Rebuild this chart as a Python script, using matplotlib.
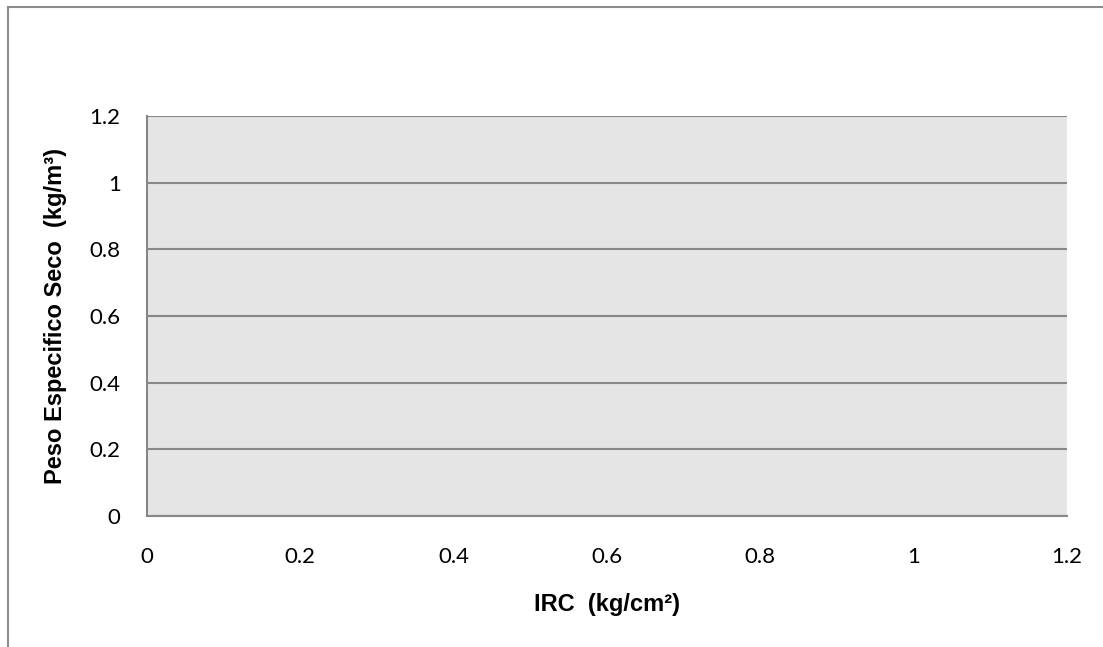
import matplotlib.pyplot as plt
from matplotlib.patches import Rectangle

# empty scatter chart: only axis ranges / ticks
x_ticks = [0, 0.2, 0.4, 0.6, 0.8, 1, 1.2]
y_ticks = [0, 0.2, 0.4, 0.6, 0.8, 1, 1.2]
x_labels = ['0', '0.2', '0.4', '0.6', '0.8', '1', '1.2']
y_labels = ['0', '0.2', '0.4', '0.6', '0.8', '1', '1.2']
x_title = 'IRC  (kg/cm²)'
y_title = 'Peso Especifico Seco  (kg/m³)'

fig = plt.figure(figsize=(11.03, 6.47), dpi=100)
fig.patch.set_facecolor('white')

# outer chart border (left/top visible, rest cut off)
border = Rectangle((7.5 / 1103, -0.05), 1.2, 1 - 6.5 / 647 + 0.05,
                   transform=fig.transFigure, fill=False,
                   edgecolor='#8c8c8c', linewidth=1.5, zorder=0)
fig.patches.append(border)

ax = fig.add_axes([147 / 1103, 131 / 647, 920 / 1103, 400 / 647])
ax.set_facecolor('#e5e5e5')
ax.set_xlim(0, 1.2)
ax.set_ylim(0, 1.2)

ax.set_xticks(x_ticks)
ax.set_xticklabels(x_labels)
ax.set_yticks(y_ticks)
ax.set_yticklabels(y_labels)
ax.tick_params(length=0, labelsize=16)
ax.tick_params(axis='x', pad=22)
ax.tick_params(axis='y', pad=19)
for lab in ax.get_xticklabels() + ax.get_yticklabels():
    lab.set_family('Lato')

ax.yaxis.grid(True, color='#878787', linewidth=1.5)
ax.set_axisbelow(True)

for side in ['top', 'right']:
    ax.spines[side].set_visible(False)
for side in ['left', 'bottom']:
    ax.spines[side].set_color('#878787')
    ax.spines[side].set_linewidth(1.5)

ax.set_xlabel(x_title, fontsize=17, fontweight='bold', family='Liberation Sans', labelpad=19)
ax.set_ylabel(y_title, fontsize=17, fontweight='bold', family='Liberation Sans', labelpad=16)

fig.savefig('out.png', dpi=100)
